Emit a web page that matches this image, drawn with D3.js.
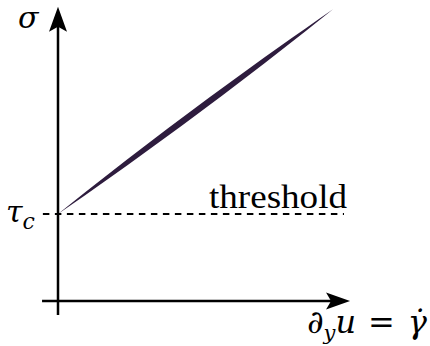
<!DOCTYPE html>
<html>
<head>
<meta charset="utf-8">
<script src="https://cdn.jsdelivr.net/npm/d3@7"></script>
<style>
  html, body { margin: 0; padding: 0; background: #fff; }
  svg { display: block; }
  text { font-family: "Liberation Serif", "DejaVu Serif", serif; fill: #000; }
  text.math { font-family: "DejaVu Serif", serif; font-style: italic; }
</style>
</head>
<body>
<svg id="chart" width="430" height="346"></svg>
<script>
// Shear rate samples and the stress band (upper / lower branches) above the yield stress
const shearRates  = [0, 0.1, 0.2, 0.3, 0.4, 0.5, 0.6, 0.7, 0.8, 0.9, 1.0];
const stressUpper = [1, 1.251, 1.499, 1.743, 1.983, 2.220, 2.453, 2.683, 2.909, 3.131, 3.35];
const stressLower = [1, 1.219, 1.441, 1.667, 1.897, 2.130, 2.367, 2.607, 2.851, 3.099, 3.35];
const yieldStress = 1;
const thresholdLabel = "threshold";

const svg = d3.select("#chart");

const x = d3.scaleLinear().domain([0, 1]).range([58, 333]);
const y = d3.scaleLinear().domain([0, 3.4]).range([301, 5]);

const band = shearRates.map((g, i) => ({ g, hi: stressUpper[i], lo: stressLower[i] }));

// Filled stress band
svg.append("path")
  .datum(band)
  .attr("fill", "#2e1c3e")
  .attr("d", d3.area()
    .x(d => x(d.g))
    .y0(d => y(d.lo))
    .y1(d => y(d.hi))
    .curve(d3.curveMonotoneX));

// Dashed threshold line at the yield stress
svg.append("line")
  .attr("x1", x(-0.055)).attr("x2", x(1.04))
  .attr("y1", y(yieldStress)).attr("y2", y(yieldStress))
  .attr("stroke", "#000").attr("stroke-width", 2)
  .attr("stroke-dasharray", "6.5,5.5");

// Axes with arrow heads
const x0 = x(0), y0 = y(0);
const xTip = x(1.062), yTip = y(3.38);

svg.append("line")
  .attr("x1", x(-0.058)).attr("x2", xTip - 10)
  .attr("y1", y0).attr("y2", y0)
  .attr("stroke", "#000").attr("stroke-width", 2.5);
svg.append("line")
  .attr("x1", x0).attr("x2", x0)
  .attr("y1", y(-0.16)).attr("y2", yTip + 10)
  .attr("stroke", "#000").attr("stroke-width", 2.5);

svg.append("path")
  .attr("d", `M${xTip},${y0} L${xTip - 24},${y0 - 8.5} L${xTip - 19},${y0} L${xTip - 24},${y0 + 8.5} Z`)
  .attr("fill", "#000");
svg.append("path")
  .attr("d", `M${x0},${yTip} L${x0 - 9},${yTip + 25} L${x0},${yTip + 20} L${x0 + 9},${yTip + 25} Z`)
  .attr("fill", "#000");

// Labels
svg.append("text")
  .attr("class", "math")
  .attr("x", 18).attr("y", 28)
  .attr("font-size", 30)
  .text("σ");

const tau = svg.append("text")
  .attr("class", "math")
  .attr("x", 6).attr("y", y(yieldStress) + 8)
  .attr("font-size", 30);
tau.append("tspan").text("τ");
tau.append("tspan").attr("font-size", 22).attr("dy", 7).text("c");

svg.append("text")
  .attr("x", 209).attr("y", 208)
  .attr("font-size", 34)
  .attr("textLength", 138).attr("lengthAdjust", "spacingAndGlyphs")
  .text(thresholdLabel);

const xl = svg.append("text")
  .attr("class", "math")
  .attr("x", 307).attr("y", 333)
  .attr("font-size", 32);
xl.append("tspan").text("∂");
xl.append("tspan").attr("font-size", 21).attr("dy", 7).text("y");
xl.append("tspan").attr("dy", -7).text("u");
xl.append("tspan").attr("font-style", "normal").attr("dx", 12).text("=");
xl.append("tspan").attr("dx", 13).text("γ\u0307");
</script>
</body>
</html>
